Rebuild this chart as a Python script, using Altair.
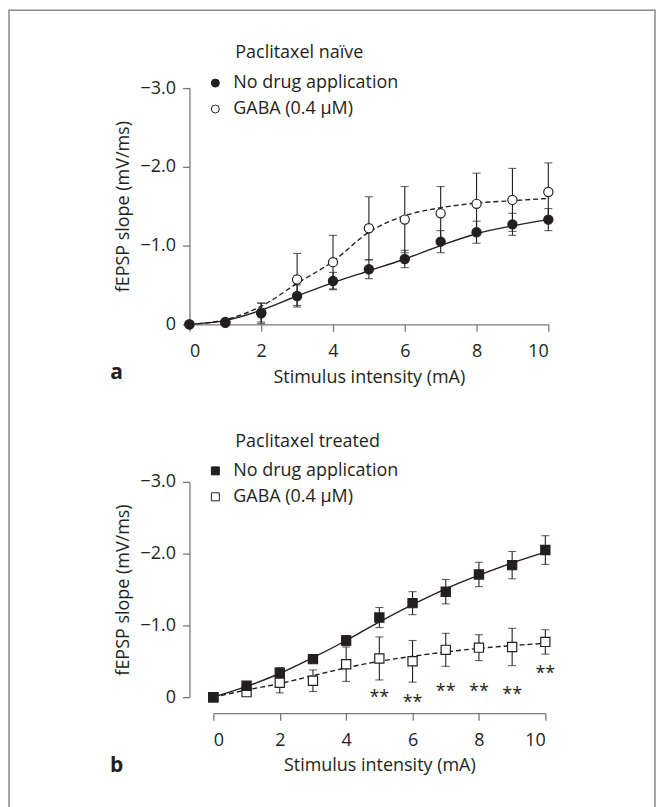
import altair as alt
import pandas as pd

# ---------------- data ----------------
X = list(range(11))
NODRUG = "No drug application"
GABA = "GABA (0.4 μM)"

NAIVE_NODRUG_MEAN = [0, -0.02, -0.14, -0.36, -0.55, -0.70, -0.83, -1.05, -1.17, -1.27, -1.33]
NAIVE_NODRUG_SEM = [0, 0.01, 0.13, 0.14, 0.11, 0.12, 0.11, 0.14, 0.14, 0.14, 0.14]
NAIVE_GABA_MEAN = [0, -0.03, -0.15, -0.57, -0.79, -1.22, -1.33, -1.41, -1.53, -1.58, -1.68]
NAIVE_GABA_SEM = [0, 0.02, 0.12, 0.33, 0.34, 0.40, 0.42, 0.34, 0.39, 0.40, 0.37]
NAIVE_NODRUG_FIT = [0, -0.05, -0.18, -0.36, -0.53, -0.68, -0.83, -1.00, -1.15, -1.25, -1.33]
NAIVE_GABA_FIT = [0, -0.06, -0.23, -0.52, -0.80, -1.17, -1.38, -1.48, -1.54, -1.57, -1.60]

TREATED_NODRUG_MEAN = [0, -0.16, -0.34, -0.53, -0.79, -1.11, -1.31, -1.47, -1.71, -1.84, -2.05]
TREATED_NODRUG_SEM = [0, 0.02, 0.07, 0.04, 0.07, 0.14, 0.16, 0.17, 0.17, 0.19, 0.20]
TREATED_GABA_MEAN = [0, -0.07, -0.20, -0.23, -0.46, -0.54, -0.50, -0.66, -0.69, -0.70, -0.77]
TREATED_GABA_SEM = [0, 0.02, 0.14, 0.15, 0.24, 0.30, 0.29, 0.23, 0.18, 0.26, 0.17]
TREATED_NODRUG_FIT = [0, -0.15, -0.33, -0.55, -0.79, -1.05, -1.29, -1.51, -1.70, -1.87, -2.02]
TREATED_GABA_FIT = [0, -0.10, -0.19, -0.30, -0.41, -0.50, -0.57, -0.63, -0.68, -0.72, -0.75]

STAR_X = [5, 6, 7, 8, 9, 10]
STAR_Y = [-0.06, 0.01, -0.14, -0.14, -0.10, -0.39]

X_TICKS = [0, 2, 4, 6, 8, 10]
Y_TICKS = [-3, -2, -1, 0]

# ---------------- styling ----------------
FONT = "Open Sans"
INK = "#231f20"
AXIS_GRAY = "#7a7a7a"
FS = 18


def make_panel(header, letter, shape, nd_mean, nd_sem, gb_mean, gb_sem, nd_fit, gb_fit,
               width, height, x_range, y_range, legend_y, header_y, letter_y,
               stars=None, frame=False):
    rows = []
    for series, means, sems, fits in [(GABA, gb_mean, gb_sem, gb_fit),
                                      (NODRUG, nd_mean, nd_sem, nd_fit)]:
        for x, m, s, f in zip(X, means, sems, fits):
            rows.append(dict(x=x, mean=m, lo=m - s, hi=m + s, fit=f, series=series))
    df = pd.DataFrame(rows)

    x_axis = alt.Axis(values=X_TICKS, format="d", title="Stimulus intensity (mA)",
                      labelPadding=11, titlePadding=8)
    y_axis = alt.Axis(values=Y_TICKS, title="fEPSP slope (mV/ms)",
                      labelExpr="datum.value == 0 ? '0' : format(datum.value, '.1f')",
                      labelPadding=7, titlePadding=8)
    xs = dict(domain=[0, 10], nice=False, zero=False)
    if x_range is not None:
        xs["range"] = x_range
    x_scale = alt.Scale(**xs)
    y_scale = alt.Scale(domain=[-3, 0], range=y_range, nice=False, zero=False)

    def xe():
        return alt.X("x:Q", scale=x_scale, axis=x_axis)

    def ye(field):
        return alt.Y(f"{field}:Q", scale=y_scale, axis=y_axis)

    base = alt.Chart(df)
    err = base.mark_rule(color=INK, strokeWidth=1.1).encode(x=xe(), y=ye("lo"), y2="hi:Q")
    cap_lo = base.mark_tick(orient="horizontal", color=INK, size=8, thickness=1.1).encode(
        x=xe(), y=ye("lo"))
    cap_hi = base.mark_tick(orient="horizontal", color=INK, size=8, thickness=1.1).encode(
        x=xe(), y=ye("hi"))
    line_nd = base.transform_filter(alt.datum.series == NODRUG).mark_line(
        interpolate="monotone", color=INK, strokeWidth=1.4).encode(x=xe(), y=ye("fit"))
    line_gb = base.transform_filter(alt.datum.series == GABA).mark_line(
        interpolate="monotone", color=INK, strokeWidth=1.4, strokeDash=[5, 3]).encode(
        x=xe(), y=ye("fit"))
    points = base.mark_point(shape=shape, size=85, stroke=INK, strokeWidth=1.2,
                             opacity=1, fillOpacity=1).encode(
        x=xe(), y=ye("mean"),
        fill=alt.Fill("series:N",
                      scale=alt.Scale(domain=[NODRUG, GABA], range=[INK, "white"]),
                      legend=alt.Legend(title=None, orient="none", legendX=17, legendY=legend_y,
                                        labelFont=FONT, labelFontSize=FS, labelColor=INK,
                                        labelLimit=0,
                                        symbolSize=64, symbolType=shape,
                                        symbolStrokeColor=INK, symbolStrokeWidth=1,
                                        rowPadding=8, labelOffset=9, padding=0)))

    hdr = alt.Chart(pd.DataFrame({"t": [header]})).mark_text(
        align="left", baseline="middle", font=FONT, fontSize=FS, color=INK).encode(
        text="t:N", x=alt.value(46), y=alt.value(header_y))
    let = alt.Chart(pd.DataFrame({"t": [letter]})).mark_text(
        align="center", baseline="middle", font=FONT, fontSize=21, fontWeight="bold",
        color=INK).encode(text="t:N", x=alt.value(-73), y=alt.value(letter_y))

    layers = []
    if frame:
        layers.append(alt.Chart(pd.DataFrame({"f": [0]})).mark_rect(
            fillOpacity=0, stroke="#8a8a8a", strokeWidth=1.5).encode(
            x=alt.value(-181), x2=alt.value(467), y=alt.value(-78), y2=alt.value(780)))
    layers += [err, cap_lo, cap_hi, line_nd, line_gb, points]
    if stars is not None:
        sdf = pd.DataFrame({"x": stars[0], "y": stars[1]})
        layers.append(alt.Chart(sdf).mark_text(text="**", font=FONT, fontSize=FS, color=INK,
                                               baseline="middle", dy=5).encode(
            x=xe(), y=ye("y")))
    layers += [hdr, let]
    return alt.layer(*layers).properties(width=width, height=height)


panel_a = make_panel("Paclitaxel naïve", "a", "circle",
                     NAIVE_NODRUG_MEAN, NAIVE_NODRUG_SEM, NAIVE_GABA_MEAN, NAIVE_GABA_SEM,
                     NAIVE_NODRUG_FIT, NAIVE_GABA_FIT,
                     width=360, height=237, x_range=None, y_range=[0, 237],
                     legend_y=-14, header_y=-35, letter_y=286, frame=True)

panel_b = make_panel("Paclitaxel treated", "b", "square",
                     TREATED_NODRUG_MEAN, TREATED_NODRUG_SEM, TREATED_GABA_MEAN, TREATED_GABA_SEM,
                     TREATED_NODRUG_FIT, TREATED_GABA_FIT,
                     width=357, height=232, x_range=[24, 357], y_range=[0, 216],
                     legend_y=-20, header_y=-40, letter_y=285,
                     stars=(STAR_X, STAR_Y))

chart = alt.vconcat(panel_a, panel_b, spacing=158, bounds="flush").resolve_scale(
    fill="independent", x="independent", y="independent"
).resolve_legend(fill="independent").properties(padding=0).configure_view(
    stroke=None
).configure_axis(
    labelFont=FONT, titleFont=FONT, labelFontSize=FS, titleFontSize=FS,
    labelColor=INK, titleColor=INK, titleFontWeight="normal",
    domainColor=AXIS_GRAY, tickColor=AXIS_GRAY, domainWidth=1.3, tickWidth=1.3,
    grid=False, tickSize=7
)

chart.save("out.html", embed_options={"renderer": "svg", "actions": False})
